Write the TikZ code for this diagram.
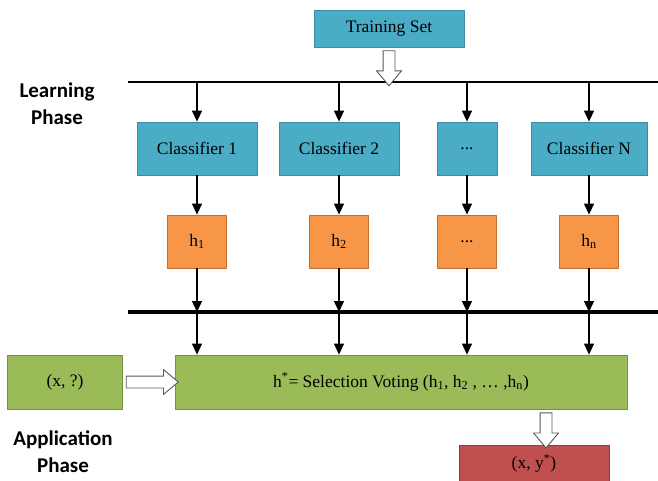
\documentclass[tikz,border=0pt]{standalone}
\usepackage{fontspec}
\setmainfont{Liberation Serif}
\newfontfamily\phasefont{Carlito}
\usetikzlibrary{positioning}
\usetikzlibrary{calc}
\usetikzlibrary{shapes.arrows}
\usetikzlibrary{arrows.meta}

\definecolor{setblue}{HTML}{4BACC6}
\definecolor{setblueline}{HTML}{3A8CA3}
\definecolor{hypoorange}{HTML}{F79646}
\definecolor{hypoline}{HTML}{C8702E}
\definecolor{votegreen}{HTML}{9BBB59}
\definecolor{voteline}{HTML}{76923C}
\definecolor{outred}{HTML}{C0504D}
\definecolor{outline}{HTML}{943C3A}

\begin{document}
\begin{tikzpicture}[x=1pt, y=-1pt,
  box/.style={draw, line width=0.8pt, inner sep=2pt, font=\fontsize{17.5}{21}\selectfont},
  learner/.style={box, fill=setblue, draw=setblueline, minimum height=53},
  hypo/.style={box, fill=hypoorange, draw=hypoline, minimum width=59, minimum height=53},
  apply/.style={box, fill=votegreen, draw=voteline, minimum height=54},
  flow/.style={draw=black, line width=1.3pt, -{Triangle[length=11pt,width=10pt]}},
  bigarrow/.style={single arrow, draw=black!65, fill=white, line width=0.9pt,
    inner xsep=0pt, inner ysep=5.5pt, single arrow head extend=6.5pt,
    single arrow tip angle=80},
  phase/.style={font=\phasefont\bfseries\fontsize{21}{27}\selectfont, align=center}
]
  \useasboundingbox (0,0) rectangle (658,480);

  \node[box, fill=setblue, draw=setblueline, minimum width=150, minimum height=37] (train) at (389, 28.5) {Training Set};

  \coordinate (tl) at (128, 82);
  \coordinate (tr) at (658, 82);
  \coordinate (bl) at (128, 312);
  \coordinate (br) at (658, 312);
  \draw[line width=1.1pt] (tl) -- (tr);
  \draw[line width=3.2pt] (bl) -- (br);

  \node[phase] (learn) at (57, 104) {Learning\\Phase};
  \node[phase] (applyph) at (63, 452) {Application\\Phase};

  \node[learner, minimum width=120] (c1) at (197, 148.5) {Classifier 1};
  \node[learner, minimum width=120] (c2) at (339, 148.5) {Classifier 2};
  \node[learner, minimum width=60]  (cd) at (467, 148.5) {...};
  \node[learner, minimum width=116] (cn) at (589, 148.5) {Classifier N};

  \node[hypo] (h1) at (197, 241.5) {h\textsubscript{1}};
  \node[hypo] (h2) at (339, 241.5) {h\textsubscript{2}};
  \node[hypo] (hd) at (467, 241.5) {...};
  \node[hypo] (hn) at (589, 241.5) {h\textsubscript{n}};

  \node[apply, minimum width=452] (vote) at (401, 382) {h\textsuperscript{*}= Selection Voting (h\textsubscript{1}, h\textsubscript{2} , \dots\ ,h\textsubscript{n})};
  \node[apply, minimum width=115] (xq) at (65, 382) {(x, ?)};
  \node[box, fill=outred, draw=outline, minimum width=150, minimum height=37] (out) at (534, 463.5) {(x, y\textsuperscript{*})};

  % training set into the learners
  \node[bigarrow, rotate=-90, minimum height=35] (a1) at ($(train.south)!0.5!(train.south |- tl)$) {};
  \foreach \c in {c1, c2, cd, cn}
    \draw[flow] (\c.north |- tl) -- (\c.north);
  \draw[flow] (c1) -- (h1);
  \draw[flow] (c2) -- (h2);
  \draw[flow] (cd) -- (hd);
  \draw[flow] (cn) -- (hn);
  \foreach \h in {h1, h2, hd, hn}
    \draw[flow] (\h.south) -- (\h.south |- bl);

  % application
  \foreach \h in {h1, h2, hd, hn}
    \draw[flow] (\h.south |- bl) -- (\h.south |- vote.north);
  \node[bigarrow, minimum height=52] (a2) at ($(xq.east)!0.5!(vote.west)$) {};
  \coordinate (vs) at (546, 409);
  \node[bigarrow, rotate=-90, minimum height=35] (a3) at ($(vs)!0.5!(vs |- out.north)$) {};
\end{tikzpicture}
\end{document}
